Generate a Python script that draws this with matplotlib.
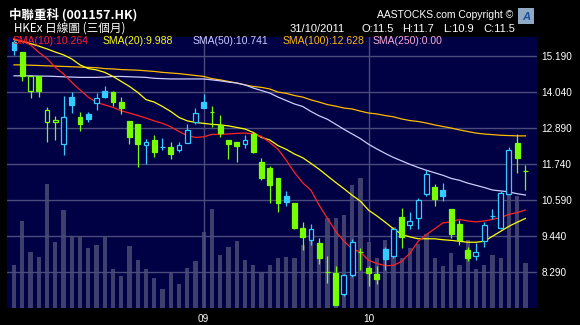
import matplotlib
matplotlib.use("Agg")
import matplotlib.pyplot as plt
from matplotlib.patches import Rectangle

# ---- data (daily, 01/08/2011 - 31/10/2011) ----
opens = [15.62, 15.30, 14.08, 14.53, 13.07, 13.07, 12.37, 13.88, 13.22, 13.32,
         13.68, 14.08, 14.02, 13.72, 13.12, 13.00, 12.35, 12.51, 12.28, 12.28,
         12.18, 12.40, 13.06, 13.70, 13.40, 12.97, 12.51, 12.44, 12.37, 12.70,
         11.78, 11.59, 11.27, 10.72, 10.47, 9.70, 9.31, 9.20, 8.28, 8.24,
         7.58, 8.17, 8.91, 8.40, 8.21, 9.01, 8.78, 10.03, 9.78, 10.00,
         10.77, 11.01, 10.91, 10.30, 9.80, 8.99, 8.79, 9.28, 10.06, 9.67,
         10.78, 12.39, 11.50]
highs = [15.70, 15.32, 14.53, 14.53, 13.54, 13.28, 13.91, 14.02, 13.40, 13.38,
         13.99, 14.23, 14.05, 13.86, 13.12, 13.00, 12.52, 12.67, 12.55, 12.44,
         12.44, 13.00, 13.51, 13.98, 13.59, 13.31, 12.51, 12.44, 12.65, 12.77,
         11.91, 11.68, 11.27, 10.86, 10.47, 9.87, 9.82, 9.35, 8.78, 8.48,
         8.22, 9.33, 9.04, 8.47, 8.46, 9.09, 9.70, 10.32, 10.19, 10.63,
         11.55, 11.09, 11.11, 10.30, 9.95, 9.07, 9.20, 9.88, 10.28, 10.86,
         12.29, 12.70, 11.70]
lows = [15.20, 14.38, 13.84, 13.86, 12.42, 12.49, 12.03, 13.36, 12.78, 13.07,
        13.47, 13.84, 13.60, 13.33, 12.37, 11.63, 11.73, 11.97, 12.17, 11.89,
        12.10, 12.40, 13.02, 13.51, 12.91, 12.59, 11.89, 11.79, 12.24, 12.08,
        11.23, 10.48, 10.19, 10.39, 9.65, 8.98, 9.13, 8.53, 7.93, 7.22,
        7.51, 8.12, 8.34, 7.83, 7.89, 8.34, 8.74, 9.06, 9.64, 9.65,
        10.72, 10.40, 10.55, 9.36, 9.14, 8.63, 8.66, 9.08, 9.97, 9.65,
        10.76, 11.44, 10.90]
closes = [15.36, 14.56, 14.53, 14.08, 13.47, 13.15, 13.22, 13.61, 13.01, 13.17,
          13.83, 13.86, 13.71, 13.52, 12.61, 12.37, 12.45, 12.11, 12.28, 12.06,
          12.33, 12.83, 13.37, 13.51, 13.40, 12.72, 12.37, 12.30, 12.51, 12.13,
          11.28, 11.06, 10.48, 10.51, 9.70, 9.41, 9.64, 8.73, 8.28, 7.22,
          8.17, 9.25, 8.91, 8.25, 8.06, 8.68, 9.65, 9.40, 9.90, 10.57,
          11.40, 10.60, 10.70, 9.49, 9.30, 8.73, 8.93, 9.79, 10.06, 10.79,
          12.19, 11.92, 11.50]
prev_close_jul = 15.25  # close before first bar (only used for colour)

# relative volume (unknown unit)
volume = [43, 87, 56, 51, 124, 66, 98, 72, 71, 60, 63, 72, 39, 32, 62, 48, 39, 30, 19, 36,
          24, 40, 47, 76, 99, 53, 61, 67, 48, 43, 36, 43, 50, 51, 50, 63, 67, 62, 90, 90,
          93, 123, 130, 66, 50, 68, 81, 50, 60, 64, 74, 50, 42, 55, 43, 68, 39, 43, 53, 50,
          113, 112, 45]

sma10 = [15.74, 15.65, 15.54, 15.30, 15.10, 14.82, 14.61, 14.34, 14.10, 13.87,
         13.70, 13.62, 13.54, 13.43, 13.36, 13.28, 13.20, 13.11, 13.03, 12.92,
         12.77, 12.64, 12.58, 12.60, 12.68, 12.68, 12.69, 12.71, 12.72, 12.69,
         12.61, 12.42, 12.20, 11.85, 11.46, 11.13, 10.89, 10.41, 9.99, 9.58,
         9.26, 9.02, 8.91, 8.65, 8.55, 8.48, 8.49, 8.62, 8.88, 9.26,
         9.48, 9.66, 9.85, 9.88, 9.96, 9.91, 9.88, 9.91, 9.96, 10.02,
         10.12, 10.18, 10.26]
sma20 = [15.71, 15.65, 15.58, 15.50, 15.41, 15.31, 15.22, 15.09, 14.90, 14.78,
         14.74, 14.66, 14.53, 14.37, 14.21, 14.02, 13.79, 13.71, 13.57, 13.41,
         13.22, 13.11, 13.06, 13.03, 13.00, 12.98, 12.95, 12.90, 12.85, 12.74,
         12.58, 12.50, 12.32, 12.20, 12.05, 11.93, 11.75, 11.56, 11.35, 11.14,
         10.94, 10.73, 10.54, 10.25, 10.07, 9.87, 9.66, 9.48, 9.40, 9.34,
         9.34, 9.34, 9.31, 9.29, 9.26, 9.23, 9.23, 9.26, 9.42, 9.58,
         9.74, 9.87, 9.99]
sma50 = [14.55, 14.55, 14.55, 14.54, 14.54, 14.53, 14.52, 14.51, 14.50, 14.50,
         14.50, 14.51, 14.53, 14.53, 14.52, 14.51, 14.50, 14.47, 14.46, 14.45,
         14.45, 14.45, 14.45, 14.45, 14.42, 14.39, 14.35, 14.32, 14.26, 14.16,
         14.08, 14.00, 13.87, 13.76, 13.65, 13.57, 13.41, 13.27, 13.16, 13.00,
         12.84, 12.69, 12.54, 12.36, 12.21, 12.07, 11.94, 11.83, 11.72, 11.62,
         11.53, 11.45, 11.37, 11.27, 11.21, 11.12, 11.05, 10.98, 10.90, 10.87,
         10.84, 10.78, 10.74]
sma100 = [14.90, 14.90, 14.89, 14.88, 14.87, 14.86, 14.85, 14.84, 14.83, 14.82,
          14.81, 14.78, 14.77, 14.75, 14.74, 14.73, 14.71, 14.69, 14.66, 14.64,
          14.62, 14.59, 14.56, 14.53, 14.46, 14.42, 14.37, 14.32, 14.26, 14.21,
          14.18, 14.13, 14.03, 13.99, 13.92, 13.87, 13.78, 13.71, 13.63, 13.58,
          13.52, 13.49, 13.42, 13.36, 13.33, 13.28, 13.24, 13.17, 13.12, 13.09,
          13.04, 12.98, 12.93, 12.88, 12.82, 12.77, 12.72, 12.69, 12.67, 12.65,
          12.64, 12.63, 12.63]

month_start = [23, 43]
month_labels = ["09", "10"]
price_ticks = [8.29, 9.44, 10.59, 11.74, 12.89, 14.04, 15.19]

sma_labels = ["SMA(10):10.264", "SMA(20):9.988", "SMA(50):10.741",
              "SMA(100):12.628", "SMA(250):0.00"]
quote_parts = ["31/10/2011", "O:11.5", "H:11.7", "L:10.9", "C:11.5"]

# ---- style ----
NAVY = "#000044"
GRID = "#4c4c7c"
VOLC = "#3f3f6e"
UP = "#33ccff"
DOWN = "#77ff00"
MA_COLORS = ["#ff2222", "#ffff00", "#ccccff", "#ffbb00", "#ffaacc"]
CJK = ["Noto Sans CJK TC", "DejaVu Sans"]
LAT = ["Liberation Sans", "DejaVu Sans"]

W, H = 580, 325
fig = plt.figure(figsize=(W / 100, H / 100), dpi=100, facecolor="black")
pos = [7 / W, 1 - 308.3 / H, 530 / W, (308.3 - 36.5) / H]

axv = fig.add_axes(pos)
axv.set_facecolor(NAVY)
ax = fig.add_axes(pos, sharex=axv)
ax.patch.set_visible(False)

n = len(closes)
idx = list(range(n))

# volume
axv.bar(idx, volume, width=0.5, color=VOLC, linewidth=0)
axv.set_ylim(0, 271.8)
axv.set_yticks([])
axv.tick_params(axis="x", length=0, labelbottom=False)
for s in axv.spines.values():
    s.set_visible(False)

# grid
for p in price_ticks:
    ax.axhline(p, color=GRID, lw=1.0, zorder=1)
for m in month_start:
    ax.axvline(m, color=GRID, lw=1.0, zorder=1)

# moving averages
for vals, c in zip([sma100, sma50, sma20, sma10], MA_COLORS[3::-1]):
    ax.plot(idx, vals, color=c, lw=0.9, zorder=2)

# candles
bw = 0.6
for i in idx:
    o, h, l, c = opens[i], highs[i], lows[i], closes[i]
    pc = prev_close_jul if i == 0 else closes[i - 1]
    col = UP if c >= pc else DOWN
    ax.vlines(i, l, h, color=col, lw=0.9, zorder=3)
    if abs(c - o) < 0.005:
        ax.hlines(c, i - bw / 2, i + bw / 2, color=col, lw=0.9, zorder=4)
    elif c > o:
        ax.add_patch(Rectangle((i - bw / 2, o), bw, c - o, facecolor=NAVY,
                               edgecolor=col, lw=0.9, zorder=4))
    else:
        ax.add_patch(Rectangle((i - bw / 2, c), bw, o - c, facecolor=col,
                               edgecolor=col, lw=0.9, zorder=4))

ax.set_xlim(-0.85, 63.4)
ax.set_ylim(7.118, 15.807)
ax.yaxis.tick_right()
ax.set_yticks(price_ticks)
ax.set_yticklabels([f"{p:.3f}" for p in price_ticks], color="white",
                   fontsize=7.2, family=LAT)
ax.set_xticks(month_start)
ax.set_xticklabels(month_labels, color="white", fontsize=7.2, family=LAT)
ax.tick_params(length=0)
ax.tick_params(axis="y", pad=3)
ax.tick_params(axis="x", pad=4)
for s in ax.spines.values():
    s.set_visible(False)


def px(x, y):
    return x / W, 1 - y / H


# header
fig.text(*px(9, 15), "中聯重科 (001157.HK)", color="white", fontsize=9,
         fontweight="bold", family=CJK, va="center")
fig.text(*px(14, 28.5), "HKEx 日線圖 (三個月)", color="white", fontsize=8.4,
         family=CJK, va="center")
fig.text(*px(513, 15.5), "AASTOCKS.com Copyright ©", color="white",
         fontsize=7.5, family=LAT, va="center", ha="right")
for x0, part in zip([290, 361, 402, 443, 483], quote_parts):
    fig.text(*px(x0, 29.5), part, color="white", fontsize=8, family=LAT,
             va="center")
fig.add_artist(Rectangle(px(518, 24), 16 / W, 16 / H, transform=fig.transFigure,
                         facecolor="#8fa8c4", edgecolor="none"))
fig.text(*px(526, 16.5), "A", color="#1a4f9a", fontsize=8, fontweight="bold",
         style="italic", family=LAT, ha="center", va="center")

# SMA legend row
for x0, lab, c in zip([13, 103, 193, 283, 373], sma_labels, MA_COLORS):
    fig.text(*px(x0, 41.5), lab, color=c, fontsize=7.5, family=LAT, va="center")

fig.savefig("out.png", dpi=100, facecolor="black")
